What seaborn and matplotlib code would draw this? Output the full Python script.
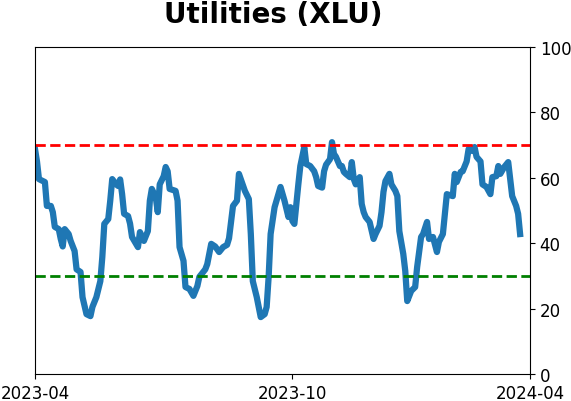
import matplotlib
matplotlib.use("Agg")
import matplotlib.pyplot as plt
import seaborn as sns
import pandas as pd

# trading-session index and indicator value
session = [0, 1, 2, 5, 6, 8, 9, 10, 12, 13, 14, 15, 17, 18, 20, 21, 23, 24, 26, 28,
           29, 31, 33, 34, 35, 37, 38, 39, 41, 42, 43, 44, 45, 47, 48, 49, 52, 53, 55, 57,
           58, 59, 61, 62, 63, 65, 66, 67, 68, 71, 72, 73, 75, 76, 78, 80, 82, 83, 86, 87,
           89, 91, 93, 95, 97, 98, 100, 102, 103, 106, 108, 109, 110, 112, 114, 116, 117, 118, 119, 121,
           124, 126, 127, 128, 129, 130, 131, 133, 134, 136, 137, 139, 141, 142, 143, 145, 146, 147, 149, 150,
           151, 152, 154, 155, 156, 157, 159, 160, 161, 162, 164, 165, 166, 167, 169, 171, 172, 174, 175, 176,
           177, 179, 180, 182, 183, 184, 186, 187, 188, 190, 192, 193, 195, 196, 198, 199, 201, 203, 204, 206,
           208, 211, 212, 213, 215, 216, 218, 219, 221, 222, 223, 225, 226, 228, 230, 231, 233, 234, 235, 237,
           239, 241, 243, 244, 245]
value = [68.8, 65.0, 59.6, 58.7, 51.4, 51.4, 49.5, 45.0, 44.3, 41.3, 39.0, 44.3, 42.8, 40.7, 37.6, 32.0, 31.2, 23.5, 18.3, 17.7,
         20.5, 23.5, 28.4, 35.8, 45.9, 47.4, 53.0, 59.6, 58.0, 57.5, 59.5, 55.0, 49.0, 48.3, 46.0, 41.9, 38.8, 43.4, 40.7, 43.7,
         53.0, 56.6, 54.0, 49.5, 58.0, 60.5, 63.3, 62.0, 56.6, 56.0, 53.0, 38.8, 34.6, 26.6, 26.0, 23.9, 26.9, 29.7, 32.0, 33.6,
         39.8, 39.0, 37.3, 38.8, 39.5, 41.5, 51.4, 53.0, 61.2, 56.0, 53.5, 42.8, 28.4, 23.5, 17.4, 18.3, 20.5, 29.7, 42.8, 51.0,
         57.2, 53.0, 50.5, 48.0, 51.0, 46.8, 45.9, 58.0, 63.6, 69.4, 64.2, 63.6, 62.0, 60.2, 57.5, 57.0, 62.0, 64.0, 65.7, 70.9,
         67.3, 66.4, 63.6, 63.6, 61.8, 61.2, 60.2, 64.8, 59.6, 58.0, 60.2, 52.0, 49.5, 48.0, 46.5, 41.3, 42.8, 45.3, 49.5, 55.7,
         59.0, 61.2, 58.0, 56.0, 54.4, 43.7, 36.7, 31.5, 22.3, 25.4, 26.6, 32.7, 41.9, 42.8, 46.5, 41.3, 41.9, 37.3, 40.4, 42.8,
         55.0, 54.4, 61.2, 58.7, 61.8, 62.0, 65.0, 68.8, 68.2, 69.4, 66.4, 65.0, 58.0, 57.2, 55.0, 60.2, 60.5, 63.6, 61.2, 63.3,
         64.8, 54.4, 51.4, 49.0, 42.8]

tick_pos = [0, 130, 250]
tick_labels = ["2023-04", "2023-10", "2024-04"]
upper_level = 70
lower_level = 30

df = pd.DataFrame({"session": session, "value": value})

fig = plt.figure(figsize=(5.71, 4.02), dpi=100)
ax = fig.add_axes([35/571, 1 - 375/402, (530 - 35)/571, (375 - 48)/402])

sns.lineplot(data=df, x="session", y="value", ax=ax, color="#1f77b4", linewidth=4.5)
ax.axhline(upper_level, color="red", linestyle="--", linewidth=2)
ax.axhline(lower_level, color="green", linestyle="--", linewidth=2)

ax.set_xlim(0, 250)
ax.set_ylim(0, 100)
ax.set_xticks(tick_pos)
ax.set_xticklabels(tick_labels, fontsize=12)
ax.yaxis.tick_right()
ax.set_yticks([0, 20, 40, 60, 80, 100])
ax.tick_params(axis="y", labelsize=12)
ax.set_xlabel("")
ax.set_ylabel("")
ax.set_title("Utilities (XLU)", fontsize=20, fontweight="bold", pad=18, x=0.482)

fig.savefig("out.png", dpi=100)
